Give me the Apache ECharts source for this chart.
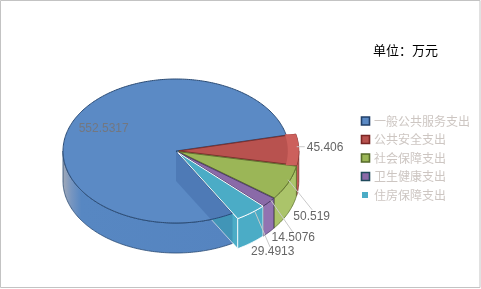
<!DOCTYPE html>
<html><head><meta charset="utf-8">
<script src="https://cdn.jsdelivr.net/npm/echarts@6/dist/echarts.min.js"></script>
<style>html,body{margin:0;padding:0;background:#fff}#c{width:481px;height:289px}</style>
</head><body><div id="c"></div>
<script>
// ---- data ----
const categories = ['一般公共服务支出', '公共安全支出', '社会保障支出', '卫生健康支出', '住房保障支出'];
const values = [552.5317, 45.406, 50.519, 14.5076, 29.4913];
const labelTexts = ['552.5317', '45.406', '50.519', '14.5076', '29.4913'];
const titleText = '单位：万元';

// ---- styles ----
const topColors = ['#5b8ac5', '#b8524f', '#9bb657', '#8a6aa8', '#4bacc6'];
const wallColors = ['#5787c2', '#cb605c', '#abc46a', '#9273b1', '#4bacc6'];
const borderColors = ['#2b4b74', '#7f2f2c', '#5f7331', '#4d3b6a', '#ffffff'];
const legendBorders = ['#22406a', '#7a2624', '#566b2a', '#1f4a5c', null];

// ---- layout ----
const G = { cx: 176, cy: 151, rx: 113, ry: 72, depth: 30, explode: 3, rOut: 1.06 };
const firstSliceAngle = 150; // clockwise from 12 o'clock
const labelLayout = [
  { inside: 0.66, text: [-4, -3], align: 'center' },
  { line: [[-2, -3], [6, -3]], text: [8, -2], align: 'left' },
  { line: [[0, -3], [24, 27]], text: [23.5, 34], align: 'center' },
  { line: [[2, -2], [24.5, 30.6]], text: [24.5, 35.6], align: 'center' },
  { line: [[4, -1], [19, 34]], text: [21.7, 39], align: 'center' }
];

const total = values.reduce((a, b) => a + b, 0);
const rad = d => d * Math.PI / 180;
function sliceRange(i) {
  let acc = 0;
  for (let k = 0; k < i; k++) acc += values[k];
  const s = firstSliceAngle - 90 + acc / total * 360;
  return [s, s + values[i] / total * 360];
}
function geom(i) {
  const [s, e] = sliceRange(i);
  const ex = i > 0;
  const m = (s + e) / 2;
  const off = ex ? [G.explode * Math.cos(rad(m)), G.explode * Math.sin(rad(m)) * G.ry / G.rx] : [0, 0];
  return { s, e, m, off, r: ex ? G.rOut : 1, ex };
}
function pt(g, phi, r, dz) {
  return [G.cx + g.off[0] + G.rx * r * Math.cos(rad(phi)),
          G.cy + g.off[1] + G.ry * r * Math.sin(rad(phi)) + (dz || 0)];
}
function arc(g, a, b, dz, dx) {
  const pts = [];
  const n = Math.max(2, Math.ceil(Math.abs(b - a)));
  for (let k = 0; k <= n; k++) {
    const p = pt(g, a + (b - a) * k / n, g.r, dz);
    p[0] += (dx || 0);
    pts.push(p);
  }
  return pts;
}
function clip(s, e, lo, hi) {
  const out = [];
  for (const k of [-360, 0, 360]) {
    const a = Math.max(s, lo + k), b = Math.min(e, hi + k);
    if (b > a) out.push([a, b]);
  }
  return out;
}
const ranks = values.map((v, i) => i).sort((a, b) => Math.sin(rad(geom(a).m)) - Math.sin(rad(geom(b).m)));

function face(g, phi) {
  return [pt(g, phi, 0), pt(g, phi, g.r), pt(g, phi, g.r, G.depth), pt(g, phi, 0, G.depth)];
}

function renderItem(params, api) {
  const i = params.dataIndex;
  const g = geom(i);
  const base = 10 + ranks.indexOf(i) * 10;
  const ch = [];
  const wallStyle = { fill: wallColors[i], stroke: borderColors[i], lineWidth: 0.8 };
  if (Math.cos(rad(g.e)) > 0) ch.push({ type: 'polygon', z2: base + 1, shape: { points: face(g, g.e) }, style: wallStyle });
  if (Math.cos(rad(g.s)) < 0) ch.push({ type: 'polygon', z2: base + 1, shape: { points: face(g, g.s) }, style: wallStyle });
  clip(g.s, g.e, 0, 180).forEach(([a, b]) => {
    const pts = arc(g, a, b, 0).concat(arc(g, b, a, G.depth));
    let fill = wallColors[i];
    if (i === 0) {
      fill = new echarts.graphic.LinearGradient(0, 0, 1, 0, [
        { offset: 0, color: '#a3aab7' }, { offset: 0.05, color: '#7896c0' },
        { offset: 0.11, color: '#5787c2' }, { offset: 1, color: '#5584c0' }]);
    }
    ch.push({ type: 'polygon', z2: base + 2, shape: { points: pts }, style: { fill, stroke: borderColors[i], lineWidth: 0.8 } });
  });
  // top face
  const topPts = [pt(g, g.s, 0)].concat(arc(g, g.s, g.e, 0));
  ch.push({ type: 'polygon', z2: 100, shape: { points: topPts },
    style: { fill: topColors[i], stroke: borderColors[i], lineWidth: 1 } });
  // overlays
  if (!g.ex) {
    ch.push({ type: 'polygon', z2: 150, shape: { points: face(g, g.s) },
      style: { fill: 'rgba(30,70,130,0.22)' } });
  }
  if (g.ex && clip(g.s, g.e, -90, 0).length && clip(g.s, g.e, 0, 90).length) {
    const pts = arc(g, g.s, g.e, 0).concat(arc(g, g.e, g.s, 0, -11));
    ch.push({ type: 'polygon', z2: 150, shape: { points: pts }, style: { fill: '#cc605c' } });
  }
  // label
  const L = labelLayout[i];
  let tx, ty;
  if (L.inside) {
    const p = pt(g, g.m, L.inside);
    tx = p[0] + L.text[0]; ty = p[1] + L.text[1];
  } else {
    const p = pt(g, g.m, g.r);
    const lp = L.line.map(o => [p[0] + o[0], p[1] + o[1]]);
    ch.push({ type: 'polyline', z2: 290, shape: { points: lp }, style: { stroke: '#c9c9c9', lineWidth: 1, fill: null } });
    tx = p[0] + L.text[0]; ty = p[1] + L.text[1];
  }
  ch.push({ type: 'text', z2: 300, style: { text: labelTexts[i], x: tx, y: ty, fill: i === 0 ? '#737780' : '#666666',
    fontSize: 12, fontFamily: 'Liberation Sans, Arial, sans-serif', align: L.align, verticalAlign: 'middle' } });
  return { type: 'group', children: ch };
}

const legendEls = [];
categories.forEach((c, i) => {
  const yc = 121 + i * 18.5;
  if (legendBorders[i]) {
    legendEls.push({ type: 'rect', shape: { x: 361.5, y: yc - 4, width: 8, height: 8 },
      style: { fill: topColors[i], stroke: legendBorders[i], lineWidth: 1.6 } });
  } else {
    legendEls.push({ type: 'rect', shape: { x: 362, y: yc - 3, width: 6, height: 6 }, style: { fill: topColors[i] } });
  }
  legendEls.push({ type: 'text', x: 374, y: yc, style: { text: c, fill: '#cdc6c2', fontSize: 12,
    fontFamily: 'Noto Sans CJK SC', verticalAlign: 'middle', align: 'left' } });
});

const chart = echarts.init(document.getElementById('c'));
chart.setOption({
  animation: false,
  graphic: [
    { type: 'rect', shape: { x: 0.5, y: 0.5, width: 479.5, height: 287 }, style: { fill: null, stroke: '#c3c3c3', lineWidth: 1 }, silent: true },
    { type: 'text', x: 373, y: 50, style: { text: titleText, fill: '#000', fontSize: 13, fontFamily: 'Noto Sans CJK SC', verticalAlign: 'middle' } },
    ...legendEls
  ],
  series: [{
    type: 'custom',
    coordinateSystem: 'none',
    silent: true,
    renderItem,
    data: values.map((v, i) => ({ name: categories[i], value: v }))
  }]
});
</script></body></html>
